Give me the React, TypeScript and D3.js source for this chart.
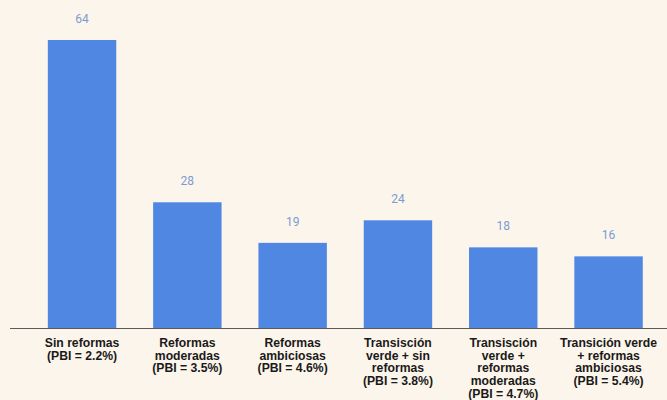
import React from "react";
import * as d3 from "d3";

const categories: string[][] = [
  ["Sin reformas", "(PBI = 2.2%)"],
  ["Reformas", "moderadas", "(PBI = 3.5%)"],
  ["Reformas", "ambiciosas", "(PBI = 4.6%)"],
  ["Transisción", "verde + sin", "reformas", "(PBI = 3.8%)"],
  ["Transisción", "verde +", "reformas", "moderadas", "(PBI = 4.7%)"],
  ["Transición verde", "+ reformas", "ambiciosas", "(PBI = 5.4%)"],
];
const values: number[] = [64, 28, 19, 24, 18, 16];

const W = 667;
const H = 400;
const baseY = 328.5;
const topY = 40;

export default function App() {
  const ids = categories.map((_, i) => String(i));
  const x = d3.scaleBand<string>().domain(ids).range([29.4, 661.2]).paddingInner(0.35).paddingOuter(0.175);
  const y = d3.scaleLinear().domain([0, 64]).range([baseY, topY]);
  return (
    <svg width={W} height={H} style={{ position: "fixed", left: 0, top: 0, background: "#fcf5eb" }}>
      <rect x={0} y={0} width={W} height={H} fill="#fcf5eb" />
      {values.map((v, i) => {
        const bx = x(String(i))!;
        const bw = x.bandwidth();
        return (
          <g key={i}>
            <rect x={bx} y={y(v)} width={bw} height={baseY - y(v)} fill="#5087e2" />
            <text
              x={bx + bw / 2}
              y={y(v) - 17}
              textAnchor="middle"
              fontFamily="Roboto, 'Open Sans', sans-serif"
              fontSize={12}
              fill="#7b9bd2"
            >
              {v}
            </text>
          </g>
        );
      })}
      <line x1={10} x2={W} y1={baseY} y2={baseY} stroke="#5a5a5a" strokeWidth={1.2} />
      {categories.map((lines, i) => {
        const cx = x(String(i))! + x.bandwidth() / 2;
        return (
          <text
            key={i}
            x={cx}
            textAnchor="middle"
            fontFamily="'Liberation Sans', Arial, sans-serif"
            fontSize={12.2}
            fontWeight="bold"
            fill="#1a1a1a"
          >
            {lines.map((l, j) => (
              <tspan key={j} x={cx} y={347 + j * 12.67}>
                {l}
              </tspan>
            ))}
          </text>
        );
      })}
    </svg>
  );
}
